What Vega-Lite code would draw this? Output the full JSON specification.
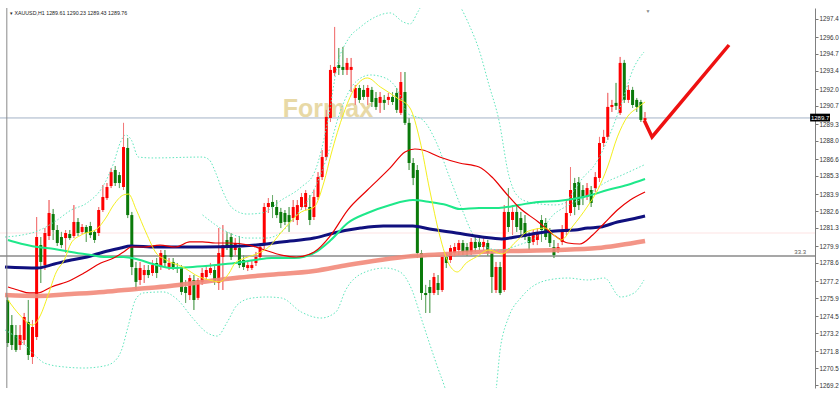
{
"$schema":"https://vega.github.io/schema/vega-lite/v6.json",
"width":815,"height":380,
"autosize":{"type":"none"},
"padding":{"left":0,"top":8,"right":25,"bottom":8},
"background":"white",
"config":{"view":{"stroke":null},"font":"Liberation Sans",
 "axis":{"labelOverlap":false},
 "axisY":{"title":null,"grid":false,"format":".1f","labelFont":"Liberation Sans","labelFontSize":6.3,"labelColor":"#333333","tickColor":"#777777","tickSize":3,"labelPadding":1,"domainColor":"#808080","domainWidth":1,"labelOverlap":false,"labelBound":false,"tickCount":40}},
"datasets":{
"candles":[
{"i":0,"o":1275.75,"h":1276.13,"l":1272.13,"c":1272.44},
{"i":1,"o":1273.82,"h":1274.59,"l":1271.90,"c":1272.28},
{"i":2,"o":1273.05,"h":1273.82,"l":1271.75,"c":1271.90},
{"i":3,"o":1272.28,"h":1273.82,"l":1271.90,"c":1273.05},
{"i":4,"o":1272.67,"h":1274.75,"l":1272.28,"c":1274.44},
{"i":5,"o":1274.06,"h":1275.75,"l":1271.13,"c":1271.51},
{"i":6,"o":1271.36,"h":1274.21,"l":1270.82,"c":1273.67},
{"i":7,"o":1272.90,"h":1282.14,"l":1272.67,"c":1280.60},
{"i":8,"o":1279.98,"h":1280.60,"l":1277.06,"c":1278.68},
{"i":9,"o":1278.44,"h":1281.29,"l":1278.06,"c":1280.91},
{"i":10,"o":1280.68,"h":1283.45,"l":1280.37,"c":1282.45},
{"i":11,"o":1282.37,"h":1282.76,"l":1280.37,"c":1281.14},
{"i":12,"o":1281.14,"h":1281.52,"l":1279.91,"c":1280.14},
{"i":13,"o":1280.60,"h":1280.99,"l":1279.75,"c":1279.98},
{"i":14,"o":1280.52,"h":1281.14,"l":1279.37,"c":1280.91},
{"i":15,"o":1280.83,"h":1281.14,"l":1280.37,"c":1280.52},
{"i":16,"o":1280.68,"h":1283.06,"l":1280.52,"c":1281.76},
{"i":17,"o":1281.76,"h":1282.06,"l":1280.68,"c":1280.91},
{"i":18,"o":1280.99,"h":1281.60,"l":1280.83,"c":1281.37},
{"i":19,"o":1281.37,"h":1281.52,"l":1280.22,"c":1280.91},
{"i":20,"o":1281.45,"h":1281.76,"l":1280.52,"c":1280.75},
{"i":21,"o":1280.99,"h":1281.14,"l":1280.14,"c":1280.37},
{"i":22,"o":1280.91,"h":1282.91,"l":1280.68,"c":1282.68},
{"i":23,"o":1282.68,"h":1284.60,"l":1282.53,"c":1283.68},
{"i":24,"o":1283.60,"h":1284.76,"l":1283.45,"c":1284.45},
{"i":25,"o":1284.53,"h":1285.91,"l":1284.37,"c":1285.60},
{"i":26,"o":1285.76,"h":1286.07,"l":1284.53,"c":1284.76},
{"i":27,"o":1285.37,"h":1285.60,"l":1284.37,"c":1284.76},
{"i":28,"o":1284.45,"h":1289.39,"l":1284.22,"c":1287.53},
{"i":29,"o":1287.46,"h":1288.23,"l":1282.06,"c":1282.29},
{"i":30,"o":1282.29,"h":1282.53,"l":1277.67,"c":1278.29},
{"i":31,"o":1278.21,"h":1278.68,"l":1276.52,"c":1277.14},
{"i":32,"o":1277.29,"h":1278.68,"l":1276.91,"c":1278.21},
{"i":33,"o":1277.67,"h":1278.44,"l":1277.06,"c":1278.06},
{"i":34,"o":1278.06,"h":1278.44,"l":1277.44,"c":1277.67},
{"i":35,"o":1277.83,"h":1278.83,"l":1277.60,"c":1278.44},
{"i":36,"o":1278.60,"h":1278.98,"l":1277.44,"c":1277.83},
{"i":37,"o":1278.29,"h":1279.60,"l":1278.06,"c":1279.37},
{"i":38,"o":1279.21,"h":1279.60,"l":1278.21,"c":1278.60},
{"i":39,"o":1278.29,"h":1278.98,"l":1278.06,"c":1278.60},
{"i":40,"o":1278.68,"h":1278.98,"l":1278.06,"c":1278.29},
{"i":41,"o":1278.29,"h":1278.60,"l":1277.83,"c":1278.21},
{"i":42,"o":1278.21,"h":1278.44,"l":1276.13,"c":1276.37},
{"i":43,"o":1276.75,"h":1277.29,"l":1275.52,"c":1276.29},
{"i":44,"o":1276.13,"h":1277.67,"l":1275.75,"c":1277.44},
{"i":45,"o":1277.29,"h":1277.67,"l":1274.98,"c":1275.75},
{"i":46,"o":1275.91,"h":1277.44,"l":1275.75,"c":1277.29},
{"i":47,"o":1277.14,"h":1278.21,"l":1276.91,"c":1277.83},
{"i":48,"o":1277.52,"h":1278.37,"l":1277.29,"c":1278.06},
{"i":49,"o":1277.83,"h":1278.60,"l":1277.67,"c":1278.21},
{"i":50,"o":1278.06,"h":1278.37,"l":1276.91,"c":1277.14},
{"i":51,"o":1277.06,"h":1281.29,"l":1276.52,"c":1279.37},
{"i":52,"o":1279.06,"h":1281.52,"l":1276.52,"c":1279.98},
{"i":53,"o":1280.37,"h":1280.99,"l":1279.60,"c":1279.83},
{"i":54,"o":1280.60,"h":1280.91,"l":1278.83,"c":1279.06},
{"i":55,"o":1279.60,"h":1280.52,"l":1279.21,"c":1280.14},
{"i":56,"o":1279.75,"h":1280.68,"l":1278.21,"c":1278.44},
{"i":57,"o":1278.83,"h":1279.21,"l":1278.06,"c":1278.29},
{"i":58,"o":1278.21,"h":1278.68,"l":1277.98,"c":1278.44},
{"i":59,"o":1278.21,"h":1278.83,"l":1278.06,"c":1278.44},
{"i":60,"o":1278.60,"h":1279.45,"l":1278.37,"c":1279.06},
{"i":61,"o":1279.06,"h":1280.14,"l":1278.83,"c":1279.83},
{"i":62,"o":1279.98,"h":1283.22,"l":1279.68,"c":1282.91},
{"i":63,"o":1282.91,"h":1283.60,"l":1282.45,"c":1283.22},
{"i":64,"o":1283.30,"h":1283.83,"l":1282.06,"c":1282.91},
{"i":65,"o":1282.91,"h":1283.45,"l":1282.06,"c":1282.29},
{"i":66,"o":1282.53,"h":1282.84,"l":1281.29,"c":1281.68},
{"i":67,"o":1282.45,"h":1282.68,"l":1281.52,"c":1281.76},
{"i":68,"o":1282.29,"h":1282.91,"l":1280.99,"c":1281.76},
{"i":69,"o":1282.06,"h":1283.45,"l":1281.76,"c":1282.91},
{"i":70,"o":1281.91,"h":1283.45,"l":1281.52,"c":1283.06},
{"i":71,"o":1282.91,"h":1283.99,"l":1282.68,"c":1283.68},
{"i":72,"o":1282.91,"h":1284.22,"l":1282.68,"c":1283.99},
{"i":73,"o":1282.91,"h":1283.83,"l":1281.52,"c":1281.91},
{"i":74,"o":1282.14,"h":1284.22,"l":1281.91,"c":1283.68},
{"i":75,"o":1283.68,"h":1285.60,"l":1283.45,"c":1285.22},
{"i":76,"o":1285.22,"h":1287.30,"l":1284.99,"c":1286.76},
{"i":77,"o":1286.76,"h":1290.39,"l":1286.53,"c":1289.85},
{"i":78,"o":1289.77,"h":1293.85,"l":1289.47,"c":1293.47},
{"i":79,"o":1293.24,"h":1296.78,"l":1293.01,"c":1293.70},
{"i":80,"o":1293.85,"h":1295.16,"l":1293.08,"c":1293.62},
{"i":81,"o":1293.70,"h":1295.24,"l":1293.08,"c":1293.47},
{"i":82,"o":1293.47,"h":1294.39,"l":1293.08,"c":1294.01},
{"i":83,"o":1293.47,"h":1294.39,"l":1291.77,"c":1293.70},
{"i":84,"o":1291.31,"h":1292.31,"l":1290.77,"c":1292.08},
{"i":85,"o":1292.08,"h":1292.31,"l":1290.93,"c":1291.16},
{"i":86,"o":1291.93,"h":1292.31,"l":1291.16,"c":1291.39},
{"i":87,"o":1291.39,"h":1292.31,"l":1290.77,"c":1292.08},
{"i":88,"o":1291.93,"h":1292.16,"l":1290.62,"c":1291.00},
{"i":89,"o":1291.31,"h":1291.77,"l":1290.39,"c":1290.62},
{"i":90,"o":1290.93,"h":1291.77,"l":1290.16,"c":1291.39},
{"i":91,"o":1291.16,"h":1291.54,"l":1290.39,"c":1290.93},
{"i":92,"o":1291.16,"h":1291.70,"l":1290.77,"c":1291.39},
{"i":93,"o":1291.39,"h":1291.77,"l":1290.77,"c":1291.00},
{"i":94,"o":1291.70,"h":1292.08,"l":1290.16,"c":1290.39},
{"i":95,"o":1290.16,"h":1293.31,"l":1290.00,"c":1292.54},
{"i":96,"o":1291.77,"h":1293.31,"l":1289.23,"c":1289.39},
{"i":97,"o":1289.39,"h":1289.77,"l":1285.76,"c":1286.30},
{"i":98,"o":1286.30,"h":1286.68,"l":1284.60,"c":1285.15},
{"i":99,"o":1285.76,"h":1286.14,"l":1278.98,"c":1279.37},
{"i":100,"o":1279.37,"h":1279.60,"l":1275.75,"c":1276.29},
{"i":101,"o":1276.29,"h":1276.91,"l":1274.75,"c":1276.13},
{"i":102,"o":1276.75,"h":1277.29,"l":1274.75,"c":1276.29},
{"i":103,"o":1276.29,"h":1277.83,"l":1276.13,"c":1277.52},
{"i":104,"o":1277.06,"h":1277.67,"l":1276.13,"c":1276.52},
{"i":105,"o":1276.52,"h":1279.21,"l":1276.37,"c":1279.06},
{"i":106,"o":1279.06,"h":1279.37,"l":1278.21,"c":1278.60},
{"i":107,"o":1278.83,"h":1279.98,"l":1278.60,"c":1279.75},
{"i":108,"o":1279.37,"h":1280.14,"l":1279.06,"c":1279.83},
{"i":109,"o":1279.60,"h":1280.37,"l":1279.21,"c":1280.14},
{"i":110,"o":1280.14,"h":1280.37,"l":1279.21,"c":1279.45},
{"i":111,"o":1279.83,"h":1280.14,"l":1279.14,"c":1279.45},
{"i":112,"o":1279.45,"h":1280.52,"l":1279.21,"c":1280.22},
{"i":113,"o":1280.22,"h":1280.68,"l":1279.45,"c":1279.75},
{"i":114,"o":1280.22,"h":1280.52,"l":1279.60,"c":1279.83},
{"i":115,"o":1279.83,"h":1280.52,"l":1279.60,"c":1280.22},
{"i":116,"o":1280.14,"h":1280.37,"l":1279.14,"c":1279.37},
{"i":117,"o":1279.37,"h":1279.60,"l":1276.29,"c":1277.52},
{"i":118,"o":1276.52,"h":1278.68,"l":1276.29,"c":1278.29},
{"i":119,"o":1278.29,"h":1278.68,"l":1276.13,"c":1276.29},
{"i":120,"o":1276.52,"h":1283.06,"l":1276.37,"c":1282.53},
{"i":121,"o":1282.53,"h":1284.37,"l":1280.99,"c":1281.37},
{"i":122,"o":1281.91,"h":1283.06,"l":1280.75,"c":1282.53},
{"i":123,"o":1282.53,"h":1283.06,"l":1280.99,"c":1281.37},
{"i":124,"o":1282.06,"h":1282.53,"l":1280.75,"c":1281.14},
{"i":125,"o":1281.68,"h":1282.29,"l":1280.37,"c":1280.60},
{"i":126,"o":1280.60,"h":1280.99,"l":1279.60,"c":1280.14},
{"i":127,"o":1280.22,"h":1281.14,"l":1279.98,"c":1280.75},
{"i":128,"o":1280.37,"h":1281.29,"l":1279.98,"c":1280.99},
{"i":129,"o":1281.91,"h":1282.29,"l":1280.22,"c":1281.14},
{"i":130,"o":1281.68,"h":1282.06,"l":1280.37,"c":1280.60},
{"i":131,"o":1280.99,"h":1281.29,"l":1279.83,"c":1280.14},
{"i":132,"o":1279.83,"h":1280.37,"l":1278.98,"c":1279.21},
{"i":133,"o":1279.60,"h":1280.14,"l":1279.37,"c":1279.83},
{"i":134,"o":1280.22,"h":1281.52,"l":1279.98,"c":1280.99},
{"i":135,"o":1280.99,"h":1283.45,"l":1280.75,"c":1282.45},
{"i":136,"o":1282.45,"h":1285.99,"l":1282.22,"c":1284.22},
{"i":137,"o":1284.76,"h":1285.15,"l":1282.29,"c":1282.91},
{"i":138,"o":1284.84,"h":1285.22,"l":1282.68,"c":1283.06},
{"i":139,"o":1284.22,"h":1284.60,"l":1283.06,"c":1283.60},
{"i":140,"o":1283.68,"h":1284.76,"l":1283.45,"c":1284.37},
{"i":141,"o":1284.22,"h":1284.53,"l":1282.91,"c":1283.22},
{"i":142,"o":1284.37,"h":1285.60,"l":1284.07,"c":1285.22},
{"i":143,"o":1285.15,"h":1288.31,"l":1284.84,"c":1287.84},
{"i":144,"o":1287.84,"h":1288.85,"l":1287.53,"c":1288.31},
{"i":145,"o":1288.31,"h":1291.70,"l":1288.07,"c":1290.62},
{"i":146,"o":1290.62,"h":1291.16,"l":1290.23,"c":1290.77},
{"i":147,"o":1290.93,"h":1292.47,"l":1290.39,"c":1290.70},
{"i":148,"o":1290.16,"h":1294.47,"l":1290.00,"c":1294.01},
{"i":149,"o":1294.01,"h":1294.24,"l":1290.93,"c":1291.16},
{"i":150,"o":1291.16,"h":1292.31,"l":1290.93,"c":1291.93},
{"i":151,"o":1291.93,"h":1292.16,"l":1290.54,"c":1290.77},
{"i":152,"o":1291.16,"h":1291.31,"l":1290.23,"c":1290.62},
{"i":153,"o":1291.00,"h":1291.16,"l":1289.47,"c":1289.62},
{"i":154,"o":1289.61,"h":1290.23,"l":1289.43,"c":1289.76}
],
"yellow":[
{"i":0.07,"p":1275.75},{"i":2.94,"p":1274.59},{"i":6.04,"p":1273.82},{"i":7.95,"p":1274.59},{"i":9.62,"p":1275.98},{"i":11.77,"p":1277.91},{"i":13.68,"p":1278.83},{"i":15.35,"p":1280.14},{"i":17.73,"p":1280.75},{"i":21.55,"p":1281.22},{"i":23.7,"p":1282.06},{"i":25.61,"p":1283.07},{"i":28.0,"p":1283.84},{"i":29.19,"p":1283.91},{"i":31.1,"p":1282.68},{"i":33.48,"p":1280.91},{"i":35.87,"p":1279.37},{"i":38.26,"p":1278.83},{"i":42.31,"p":1278.29},{"i":46.37,"p":1277.52},{"i":48.76,"p":1277.29},{"i":51.15,"p":1277.14},{"i":53.53,"p":1277.83},{"i":54.96,"p":1278.6},{"i":57.35,"p":1278.98},{"i":60.69,"p":1279.37},{"i":63.08,"p":1279.83},{"i":66.18,"p":1280.99},{"i":70.96,"p":1282.53},{"i":74.06,"p":1282.91},{"i":76.44,"p":1284.84},{"i":78.11,"p":1286.92},{"i":81.22,"p":1290.15},{"i":83.6,"p":1291.93},{"i":86.94,"p":1292.85},{"i":90.04,"p":1292.16},{"i":94.1,"p":1291.31},{"i":97.21,"p":1290.54},{"i":99.59,"p":1288.07},{"i":101.98,"p":1284.22},{"i":104.37,"p":1280.75},{"i":106.75,"p":1278.44},{"i":108.66,"p":1277.91},{"i":110.81,"p":1278.6},{"i":113.2,"p":1279.06},{"i":116.3,"p":1279.6},{"i":119.4,"p":1279.29},{"i":122.74,"p":1280.22},{"i":125.85,"p":1281.06},{"i":129.9,"p":1281.29},{"i":132.29,"p":1280.68},{"i":133.72,"p":1280.37},{"i":136.59,"p":1281.45},{"i":140.17,"p":1282.99},{"i":142.56,"p":1284.22},{"i":144.94,"p":1285.99},{"i":147.33,"p":1288.31},{"i":149.71,"p":1289.85},{"i":152.1,"p":1290.54},{"i":154.01,"p":1291.0}
],
"red":[
{"i":0.07,"p":1276.75},{"i":2.46,"p":1276.52},{"i":5.32,"p":1276.29},{"i":7.23,"p":1276.29},{"i":10.57,"p":1276.75},{"i":15.35,"p":1277.29},{"i":18.45,"p":1277.83},{"i":22.51,"p":1278.6},{"i":25.61,"p":1278.98},{"i":28.0,"p":1279.45},{"i":29.9,"p":1279.83},{"i":32.77,"p":1279.83},{"i":36.83,"p":1279.98},{"i":40.64,"p":1279.83},{"i":43.98,"p":1280.22},{"i":47.09,"p":1280.22},{"i":50.19,"p":1280.14},{"i":53.53,"p":1280.14},{"i":58.31,"p":1279.98},{"i":61.41,"p":1279.68},{"i":66.18,"p":1279.21},{"i":69.76,"p":1279.06},{"i":74.06,"p":1279.45},{"i":78.11,"p":1280.75},{"i":82.17,"p":1282.68},{"i":86.94,"p":1284.22},{"i":92.43,"p":1285.92},{"i":96.01,"p":1287.15},{"i":98.4,"p":1287.38},{"i":100.31,"p":1287.3},{"i":104.37,"p":1286.76},{"i":109.14,"p":1286.3},{"i":113.91,"p":1285.99},{"i":117.02,"p":1285.22},{"i":120.36,"p":1283.99},{"i":123.46,"p":1282.91},{"i":128.23,"p":1281.76},{"i":132.29,"p":1280.68},{"i":135.39,"p":1280.14},{"i":138.26,"p":1280.06},{"i":141.36,"p":1280.75},{"i":144.23,"p":1281.68},{"i":147.33,"p":1282.68},{"i":150.43,"p":1283.45},{"i":154.01,"p":1284.07}
],
"green":[
{"i":0.07,"p":1280.37},{"i":1.74,"p":1280.22},{"i":7.23,"p":1279.83},{"i":11.29,"p":1279.68},{"i":15.35,"p":1279.45},{"i":20.12,"p":1279.21},{"i":23.22,"p":1279.06},{"i":28.0,"p":1279.06},{"i":31.1,"p":1278.91},{"i":35.15,"p":1278.52},{"i":39.93,"p":1278.21},{"i":44.7,"p":1278.29},{"i":50.19,"p":1278.44},{"i":54.96,"p":1278.6},{"i":59.74,"p":1278.83},{"i":63.79,"p":1278.98},{"i":69.28,"p":1278.98},{"i":74.06,"p":1279.37},{"i":78.11,"p":1280.37},{"i":82.17,"p":1281.68},{"i":86.94,"p":1282.45},{"i":92.43,"p":1283.07},{"i":97.92,"p":1283.45},{"i":101.98,"p":1283.3},{"i":106.04,"p":1283.07},{"i":109.14,"p":1282.76},{"i":113.91,"p":1282.84},{"i":118.69,"p":1282.84},{"i":123.46,"p":1283.07},{"i":128.23,"p":1283.3},{"i":133.01,"p":1283.38},{"i":136.59,"p":1283.53},{"i":140.17,"p":1283.76},{"i":144.94,"p":1284.22},{"i":149.71,"p":1284.61},{"i":154.01,"p":1285.07}
],
"navy":[
{"i":-0.64,"p":1278.29},{"i":7.23,"p":1278.21},{"i":11.29,"p":1278.52},{"i":15.35,"p":1278.83},{"i":19.16,"p":1279.06},{"i":23.22,"p":1279.45},{"i":27.28,"p":1279.75},{"i":29.67,"p":1279.91},{"i":35.87,"p":1279.83},{"i":47.09,"p":1279.83},{"i":56.63,"p":1279.91},{"i":62.6,"p":1280.06},{"i":66.18,"p":1280.22},{"i":74.06,"p":1280.52},{"i":78.83,"p":1280.91},{"i":85.27,"p":1281.29},{"i":90.76,"p":1281.45},{"i":94.82,"p":1281.45},{"i":97.92,"p":1281.45},{"i":101.98,"p":1281.22},{"i":108.42,"p":1280.91},{"i":114.63,"p":1280.6},{"i":119.4,"p":1280.45},{"i":122.74,"p":1280.6},{"i":128.23,"p":1280.91},{"i":132.29,"p":1281.06},{"i":137.07,"p":1281.14},{"i":140.17,"p":1281.29},{"i":143.27,"p":1281.37},{"i":147.33,"p":1281.76},{"i":150.91,"p":1281.99},{"i":154.01,"p":1282.22}
],
"salmon":[
{"i":-0.64,"p":1276.13},{"i":7.23,"p":1276.06},{"i":15.35,"p":1276.21},{"i":23.22,"p":1276.37},{"i":31.1,"p":1276.6},{"i":39.21,"p":1276.83},{"i":47.09,"p":1277.14},{"i":54.96,"p":1277.44},{"i":62.6,"p":1277.67},{"i":74.06,"p":1277.98},{"i":82.17,"p":1278.44},{"i":90.04,"p":1278.83},{"i":97.92,"p":1279.14},{"i":106.04,"p":1279.29},{"i":113.91,"p":1279.45},{"i":121.79,"p":1279.52},{"i":132.29,"p":1279.6},{"i":142.56,"p":1279.75},{"i":148.04,"p":1279.98},{"i":154.01,"p":1280.29}
],
"bands":[
{"s":"UA","i":-0.64,"p":1280.6},{"s":"UA","i":3.41,"p":1280.75},{"s":"UA","i":7.23,"p":1281.06},{"s":"UA","i":11.29,"p":1281.76},{"s":"UA","i":15.35,"p":1282.68},{"s":"UA","i":19.16,"p":1283.22},{"s":"UA","i":23.22,"p":1284.61},{"s":"UA","i":25.61,"p":1286.3},{"s":"UA","i":27.28,"p":1287.92},{"s":"UA","i":28.47,"p":1288.46},{"s":"UA","i":29.9,"p":1288.07},{"s":"UA","i":31.58,"p":1286.76},{"s":"UA","i":35.15,"p":1286.69},{"s":"UA","i":47.09,"p":1286.76},{"s":"UA","i":48.76,"p":1286.53},{"s":"UA","i":50.19,"p":1285.61},{"s":"UA","i":51.86,"p":1284.22},{"s":"UA","i":54.25,"p":1282.84},{"s":"UA","i":57.83,"p":1282.37},{"s":"UA","i":61.41,"p":1282.45},{"s":"UA","i":66.18,"p":1283.45},{"s":"UA","i":70.96,"p":1284.45},{"s":"UA","i":74.06,"p":1285.53},{"s":"UA","i":77.4,"p":1289.62},{"s":"UA","i":79.79,"p":1294.01},{"s":"UA","i":82.17,"p":1295.78},{"s":"UA","i":85.27,"p":1296.78},{"s":"UA","i":88.37,"p":1297.47},{"s":"UA","i":92.43,"p":1297.86},{"s":"UA","i":95.54,"p":1297.17},{"s":"UA","i":97.21,"p":1297.01},{"s":"UA","i":99.12,"p":1297.94},{"s":"UA","i":101.5,"p":1299.25},{"s":"UA","i":105.56,"p":1299.78},{"s":"UA","i":109.14,"p":1298.47},{"s":"UA","i":111.53,"p":1296.93},{"s":"UA","i":113.91,"p":1295.01},{"s":"UA","i":116.3,"p":1292.31},{"s":"UA","i":118.69,"p":1289.62},{"s":"UA","i":121.07,"p":1285.38},{"s":"UA","i":122.98,"p":1283.84},{"s":"UA","i":125.85,"p":1283.3},{"s":"UA","i":132.29,"p":1283.07},{"s":"UA","i":134.68,"p":1283.22},{"s":"UA","i":136.59,"p":1284.07},{"s":"UA","i":138.97,"p":1285.15},{"s":"UA","i":141.84,"p":1286.15},{"s":"UA","i":144.94,"p":1288.07},{"s":"UA","i":148.04,"p":1290.62},{"s":"UA","i":151.38,"p":1293.7},{"s":"UA","i":153.77,"p":1294.85},
{"s":"LA","i":-0.64,"p":1273.44},{"s":"LA","i":2.94,"p":1272.67},{"s":"LA","i":6.52,"p":1271.51},{"s":"LA","i":8.9,"p":1270.89},{"s":"LA","i":13.68,"p":1270.59},{"s":"LA","i":18.45,"p":1270.51},{"s":"LA","i":23.22,"p":1270.66},{"s":"LA","i":25.61,"p":1270.97},{"s":"LA","i":27.52,"p":1271.9},{"s":"LA","i":29.19,"p":1273.82},{"s":"LA","i":30.86,"p":1275.75},{"s":"LA","i":32.77,"p":1276.29},{"s":"LA","i":37.54,"p":1276.37},{"s":"LA","i":41.12,"p":1275.75},{"s":"LA","i":44.7,"p":1274.36},{"s":"LA","i":48.28,"p":1273.21},{"s":"LA","i":50.67,"p":1272.97},{"s":"LA","i":53.06,"p":1274.05},{"s":"LA","i":55.44,"p":1275.36},{"s":"LA","i":59.02,"p":1275.9},{"s":"LA","i":62.6,"p":1275.98},{"s":"LA","i":66.18,"p":1275.9},{"s":"LA","i":70.96,"p":1274.82},{"s":"LA","i":75.73,"p":1274.36},{"s":"LA","i":79.31,"p":1274.82},{"s":"LA","i":81.69,"p":1276.52},{"s":"LA","i":86.46,"p":1277.91},{"s":"LA","i":91.24,"p":1278.21},{"s":"LA","i":94.82,"p":1277.91},{"s":"LA","i":97.69,"p":1276.52},{"s":"LA","i":100.07,"p":1274.21},{"s":"LA","i":102.46,"p":1271.9},{"s":"LA","i":104.84,"p":1269.74},{"s":"LA","i":107.23,"p":1268.04},{"s":"LA","i":117.49,"p":1268.04},{"s":"LA","i":119.16,"p":1272.28},{"s":"LA","i":121.07,"p":1274.44},{"s":"LA","i":124.18,"p":1275.98},{"s":"LA","i":130.62,"p":1277.29},{"s":"LA","i":135.39,"p":1277.44},{"s":"LA","i":140.17,"p":1277.29},{"s":"LA","i":144.23,"p":1277.44},{"s":"LA","i":148.04,"p":1275.98},{"s":"LA","i":151.38,"p":1276.29},{"s":"LA","i":153.77,"p":1277.29},
{"s":"UB","i":47.09,"p":1282.3},{"s":"UB","i":53.06,"p":1280.99},{"s":"UB","i":57.83,"p":1280.52},{"s":"UB","i":62.6,"p":1280.52},{"s":"UB","i":66.18,"p":1280.99},{"s":"UB","i":69.76,"p":1282.3},{"s":"UB","i":73.34,"p":1283.84},{"s":"UB","i":76.92,"p":1286.53},{"s":"UB","i":80.5,"p":1290.39},{"s":"UB","i":84.08,"p":1292.54},{"s":"UB","i":87.66,"p":1293.08},{"s":"UB","i":91.24,"p":1292.85},{"s":"UB","i":94.82,"p":1291.54},{"s":"UB","i":96.49,"p":1290.15},{"s":"UB","i":100.31,"p":1289.62},{"s":"UB","i":103.65,"p":1287.84},{"s":"UB","i":106.75,"p":1285.22},{"s":"UB","i":109.86,"p":1282.68},{"s":"UB","i":112.24,"p":1280.91},{"s":"UB","i":115.59,"p":1279.83},{"s":"UB","i":118.69,"p":1279.6},{"s":"UB","i":123.46,"p":1279.98},{"s":"UB","i":128.23,"p":1280.75},{"s":"UB","i":131.81,"p":1282.3},{"s":"UB","i":134.68,"p":1282.91},{"s":"UB","i":139.45,"p":1283.68},{"s":"UB","i":144.23,"p":1284.76},{"s":"UB","i":148.52,"p":1285.38},{"s":"UB","i":153.77,"p":1286.15}
],
"zig":[{"i":153.8,"p":1289.6},{"i":155.7,"p":1288.31},{"i":174.3,"p":1295.39}]
},
"layer":[
{"data":{"name":"candles"},"mark":{"type":"rule","strokeWidth":1},
 "encoding":{"x":{"field":"i","type":"quantitative","scale":{"domain":[-0.64,193.87],"nice":false,"zero":false},"axis":null},
  "y":{"field":"l","type":"quantitative","scale":{"domain":[1268.97,1298.24],"nice":false,"zero":false},
   "axis":{"orient":"right","labelOverlap":false,"tickCount":40,"values":[1269.2,1270.5,1271.8,1273.2,1274.5,1275.9,1277.2,1278.6,1279.9,1281.3,1282.6,1283.9,1285.3,1286.6,1288.0,1289.3,1290.7,1292.0,1293.4,1294.7,1296.0,1297.4]}},
  "y2":{"field":"h"},
  "color":{"condition":{"test":"datum.c > datum.o","value":"#f27a7a"},"value":"#6fae6f"}}},
{"data":{"values":[{"t":"Formax","i":77.4,"p":1289.85}]},
 "mark":{"type":"text","font":"Liberation Sans","fontSize":25,"fontWeight":"bold","color":"#e4d397","opacity":0.85,"align":"center","baseline":"alphabetic"},
 "encoding":{"x":{"field":"i","type":"quantitative","axis":null},
  "y":{"field":"p","type":"quantitative","axis":{"orient":"right","labelOverlap":false,"tickCount":40}},
  "text":{"field":"t"}}},
{"data":{"values":[{"p":1280.91}]},"mark":{"type":"rule","color":"#fde3e3","strokeWidth":1},
 "encoding":{"y":{"field":"p","type":"quantitative","axis":{"orient":"right","labelOverlap":false,"tickCount":40}}}},
{"data":{"values":[{"p":1279.14}]},"mark":{"type":"rule","color":"#8a8a8a","strokeWidth":1.5},
 "encoding":{"y":{"field":"p","type":"quantitative","axis":{"orient":"right","labelOverlap":false,"tickCount":40}}}},
{"data":{"values":[{"p":1289.77}]},"mark":{"type":"rule","color":"#a3b3c6","strokeWidth":1},
 "encoding":{"y":{"field":"p","type":"quantitative","axis":{"orient":"right","labelOverlap":false,"tickCount":40}}}},
{"data":{"name":"candles"},"mark":{"type":"rule","strokeWidth":1},
 "encoding":{"x":{"field":"i","type":"quantitative","axis":null},
  "y":{"field":"l","type":"quantitative","axis":{"orient":"right","labelOverlap":false,"tickCount":40}},
  "y2":{"field":"h"},
  "color":{"condition":{"test":"datum.c > datum.o","value":"#f27a7a"},"value":"#6fae6f"}}},
{"data":{"name":"candles"},"mark":{"type":"bar","size":3},
 "encoding":{"x":{"field":"i","type":"quantitative","axis":null},
  "y":{"field":"o","type":"quantitative","axis":{"orient":"right","labelOverlap":false,"tickCount":40}},
  "y2":{"field":"c"},
  "color":{"condition":{"test":"datum.c > datum.o","value":"#ff0000"},"value":"#0a7a0a"}}},
{"data":{"name":"salmon"},"mark":{"type":"line","color":"#f2897a","strokeWidth":4.5,"opacity":0.9,"interpolate":"monotone","clip":true},
 "encoding":{"x":{"field":"i","type":"quantitative","axis":null},
  "y":{"field":"p","type":"quantitative","axis":{"orient":"right","labelOverlap":false,"tickCount":40}}}},
{"data":{"name":"bands"},"mark":{"type":"line","color":"#5fe6bd","strokeWidth":1,"strokeDash":[1.5,2],"interpolate":"monotone","clip":true},
 "encoding":{"x":{"field":"i","type":"quantitative","axis":null},
  "y":{"field":"p","type":"quantitative","axis":{"orient":"right","labelOverlap":false,"tickCount":40}},
  "detail":{"field":"s"}}},
{"data":{"name":"navy"},"mark":{"type":"line","color":"#10107e","strokeWidth":3,"interpolate":"monotone","clip":true},
 "encoding":{"x":{"field":"i","type":"quantitative","axis":null},
  "y":{"field":"p","type":"quantitative","axis":{"orient":"right","labelOverlap":false,"tickCount":40}}}},
{"data":{"name":"green"},"mark":{"type":"line","color":"#1ee88a","strokeWidth":2,"interpolate":"monotone","clip":true},
 "encoding":{"x":{"field":"i","type":"quantitative","axis":null},
  "y":{"field":"p","type":"quantitative","axis":{"orient":"right","labelOverlap":false,"tickCount":40}}}},
{"data":{"name":"red"},"mark":{"type":"line","color":"#e80000","strokeWidth":1.2,"interpolate":"monotone","clip":true},
 "encoding":{"x":{"field":"i","type":"quantitative","axis":null},
  "y":{"field":"p","type":"quantitative","axis":{"orient":"right","labelOverlap":false,"tickCount":40}}}},
{"data":{"name":"yellow"},"mark":{"type":"line","color":"#f4ef1e","strokeWidth":1,"interpolate":"monotone","clip":true},
 "encoding":{"x":{"field":"i","type":"quantitative","axis":null},
  "y":{"field":"p","type":"quantitative","axis":{"orient":"right","labelOverlap":false,"tickCount":40}}}},
{"data":{"name":"zig"},"mark":{"type":"line","color":"#ee1111","strokeWidth":3.5,"strokeCap":"butt","strokeJoin":"miter"},
 "encoding":{"x":{"field":"i","type":"quantitative","axis":null},
  "y":{"field":"p","type":"quantitative","axis":{"orient":"right","labelOverlap":false,"tickCount":40}}}},
{"data":{"values":[{"i":193.9,"i2":198.7,"p":1290.1,"p2":1289.5}]},"mark":{"type":"rect","color":"#000000"},
 "encoding":{"x":{"field":"i","type":"quantitative","axis":null},"x2":{"field":"i2"},
  "y":{"field":"p","type":"quantitative","axis":{"orient":"right","labelOverlap":false,"tickCount":40}},"y2":{"field":"p2"}}},
{"data":{"values":[{"t":"1289.7","i":196.3,"p":1289.8}]},"mark":{"type":"text","fontSize":6,"color":"#ffffff","align":"center","baseline":"middle","font":"Liberation Sans"},
 "encoding":{"x":{"field":"i","type":"quantitative","axis":null},
  "y":{"field":"p","type":"quantitative","axis":{"orient":"right","labelOverlap":false,"tickCount":40}},"text":{"field":"t"}}},
{"data":{"values":[{"t":"33.3","i":192.9,"p":1279.25}]},"mark":{"type":"text","fontSize":6,"color":"#555555","align":"right","baseline":"bottom","font":"Liberation Sans"},
 "encoding":{"x":{"field":"i","type":"quantitative","axis":null},
  "y":{"field":"p","type":"quantitative","axis":{"orient":"right","labelOverlap":false,"tickCount":40}},"text":{"field":"t"}}},
{"data":{"values":[{"t":"▾ XAUUSD,H1  1289.61 1290.23 1289.43 1289.76","i":0.55,"p":1297.86}]},"mark":{"type":"text","fontSize":5.3,"color":"#222222","align":"left","baseline":"middle","font":"Liberation Sans"},
 "encoding":{"x":{"field":"i","type":"quantitative","axis":null},
  "y":{"field":"p","type":"quantitative","axis":{"orient":"right","labelOverlap":false,"tickCount":40}},"text":{"field":"t"}}},
{"data":{"values":[{"t":"▼","i":154.7,"p":1298.0}]},"mark":{"type":"text","fontSize":5,"color":"#888888","align":"center","baseline":"middle"},
 "encoding":{"x":{"field":"i","type":"quantitative","axis":null},
  "y":{"field":"p","type":"quantitative","axis":{"orient":"right","labelOverlap":false,"tickCount":40}},"text":{"field":"t"}}},
{"data":{"values":[{"i":-0.2}]},"mark":{"type":"rule","color":"#8a8a8a","strokeWidth":1},
 "encoding":{"x":{"field":"i","type":"quantitative","axis":null}}}
]
}
